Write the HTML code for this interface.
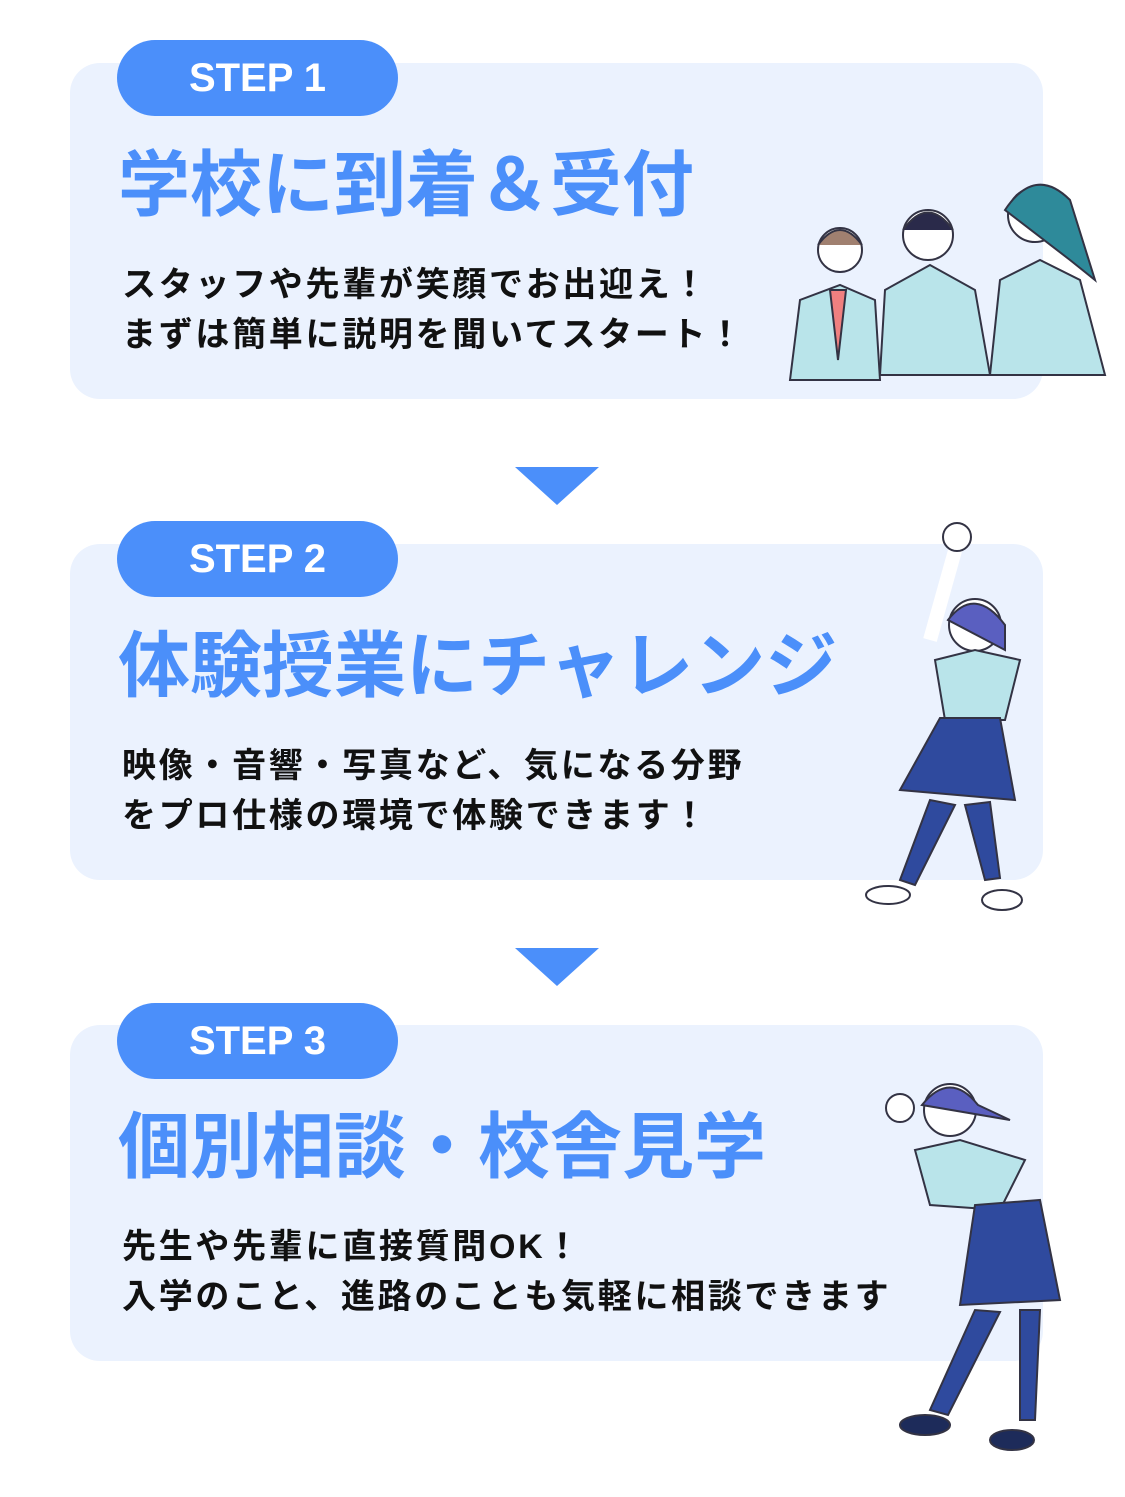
<!DOCTYPE html>
<html><head><meta charset="utf-8"><style>
body{margin:0;width:1125px;height:1497px;background:#fff;position:relative;overflow:hidden;font-family:"Liberation Sans","Noto Sans CJK JP",sans-serif}
.card{position:absolute;left:70px;width:973px;height:336px;background:#ebf2fe;border-radius:30px}
.pill{position:absolute;left:117px;width:281px;height:76px;background:#4b8ffa;border-radius:38px;color:#fff;font-weight:bold;font-size:40px;line-height:76px;text-align:center}
.title{position:absolute;left:118px;font-size:72px;font-weight:bold;color:#4b8ffa;white-space:nowrap;line-height:80px}
.body{position:absolute;left:122px;font-size:34px;font-weight:bold;color:#111;line-height:50px;white-space:nowrap;letter-spacing:2.7px}
.arr{position:absolute;left:515px;width:0;height:0;border-left:42px solid transparent;border-right:42px solid transparent;border-top:38px solid #4b8ffa}
svg{position:absolute}
</style></head><body>
<div class="card" style="top:63px"></div>
<div class="card" style="top:544px"></div>
<div class="card" style="top:1025px"></div>
<div class="pill" style="top:40px">STEP 1</div>
<div class="pill" style="top:521px">STEP 2</div>
<div class="pill" style="top:1003px">STEP 3</div>
<div class="title" style="top:146px">学校に到着＆受付</div>
<div class="title" style="top:627px">体験授業にチャレンジ</div>
<div class="title" style="top:1108px">個別相談・校舎見学</div>
<div class="body" style="top:260px">スタッフや先輩が笑顔でお出迎え！<br>まずは簡単に説明を聞いてスタート！</div>
<div class="body" style="top:741px">映像・音響・写真など、気になる分野<br>をプロ仕様の環境で体験できます！</div>
<div class="body" style="top:1222px">先生や先輩に直接質問OK！<br>入学のこと、進路のことも気軽に相談できます</div>
<div class="arr" style="top:467px"></div>
<div class="arr" style="top:948px"></div>
<svg width="1125" height="1497" viewBox="0 0 1125 1497" style="left:0;top:0">
<g stroke="#334" stroke-width="2">
<path d="M790 380 L800 300 L840 285 L875 300 L880 380Z" fill="#b9e4ea"/>
<circle cx="840" cy="250" r="22" fill="#fff"/>
<path d="M818 245 Q840 215 862 245" fill="#a08070"/>
<path d="M880 375 L885 290 L930 265 L975 290 L990 375Z" fill="#b9e4ea"/>
<circle cx="928" cy="235" r="25" fill="#fff"/>
<path d="M903 230 Q928 195 953 230" fill="#2a2a4a"/>
<path d="M990 375 L1000 280 L1040 260 L1080 280 L1105 375Z" fill="#b9e4ea"/>
<circle cx="1035" cy="215" r="27" fill="#fff"/>
<path d="M1005 210 Q1035 165 1070 200 L1095 280 L1070 260Z" fill="#2e8a9a"/>
<path d="M830 290 L838 360 L846 290Z" fill="#f08080"/>
<path d="M958 540 L930 640" fill="none" stroke-width="14" stroke="#fff"/>
<circle cx="957" cy="537" r="14" fill="#fff"/>
<circle cx="975" cy="625" r="26" fill="#fff"/>
<path d="M948 620 Q975 585 1005 625 L1005 650 Z" fill="#5a5fc0"/>
<path d="M935 660 L945 720 L1005 720 L1020 660 L975 650Z" fill="#b9e4ea"/>
<path d="M940 718 L900 790 L1015 800 L1000 718Z" fill="#2f4a9e"/>
<path d="M930 800 L900 880 L915 885 L955 805Z" fill="#2f4a9e"/>
<path d="M965 805 L985 880 L1000 878 L990 802Z" fill="#2f4a9e"/>
<ellipse cx="888" cy="895" rx="22" ry="9" fill="#fff"/>
<ellipse cx="1002" cy="900" rx="20" ry="10" fill="#fff"/>
<circle cx="900" cy="1108" r="14" fill="#fff"/>
<circle cx="950" cy="1110" r="26" fill="#fff"/>
<path d="M922 1105 Q950 1070 978 1105 L1010 1120Z" fill="#5a5fc0"/>
<path d="M915 1150 L930 1205 L1000 1210 L1025 1160 L960 1140Z" fill="#b9e4ea"/>
<path d="M975 1205 L960 1305 L1060 1300 L1040 1200Z" fill="#2f4a9e"/>
<path d="M975 1310 L930 1410 L948 1415 L1000 1312Z" fill="#2f4a9e"/>
<path d="M1020 1310 L1020 1420 L1035 1420 L1040 1310Z" fill="#2f4a9e"/>
<ellipse cx="925" cy="1425" rx="25" ry="10" fill="#1d2b5a"/>
<ellipse cx="1012" cy="1440" rx="22" ry="10" fill="#1d2b5a"/>
</g>
</svg>
</body></html>
